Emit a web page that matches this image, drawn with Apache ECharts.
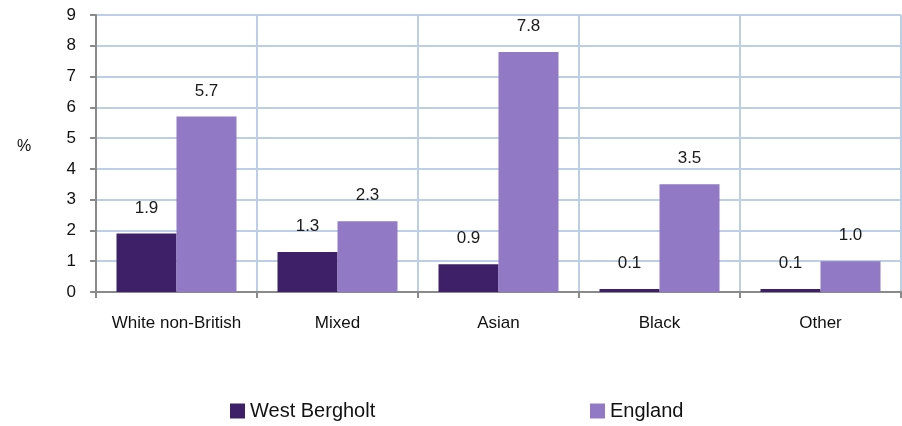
<!DOCTYPE html>
<html>
<head>
<meta charset="utf-8">
<script src="https://cdn.jsdelivr.net/npm/echarts@6/dist/echarts.min.js"></script>
<style>
  html, body { margin: 0; padding: 0; background: #fff; }
  #main { width: 902px; height: 426px; }
</style>
</head>
<body>
<div id="main"></div>
<script>
var categories = ['White non-British', 'Mixed', 'Asian', 'Black', 'Other'];
var westBergholt = [1.9, 1.3, 0.9, 0.1, 0.1];
var england = [5.7, 2.3, 7.8, 3.5, 1.0];
var yTicks = [0, 1, 2, 3, 4, 5, 6, 7, 8, 9];

var font = 'Liberation Sans, Arial, sans-serif';
var gridColor = '#bccfe6';
var axisColor = '#8a8a8a';

var labelStyle = {
  show: true,
  position: 'top',
  distance: 17,
  color: '#1a1a1a',
  fontSize: 17,
  fontFamily: font,
  formatter: function (p) { return p.value.toFixed(1); }
};

var chart = echarts.init(document.getElementById('main'));
chart.setOption({
  animation: false,
  textStyle: { fontFamily: font },
  grid: { left: 96, right: 1, top: 15, bottom: 134 },
  title: {
    text: '%',
    left: 12, top: 134,
    textStyle: { color: '#111', fontSize: 16, fontWeight: 'normal', fontFamily: font }
  },
  legend: [
    {
      data: ['West Bergholt'],
      left: 225, top: 396,
      itemWidth: 15, itemHeight: 15, icon: 'rect',
      textStyle: { fontSize: 20, color: '#111', fontFamily: font }
    },
    {
      data: ['England'],
      left: 585, top: 396,
      itemWidth: 15, itemHeight: 15, icon: 'rect',
      textStyle: { fontSize: 20, color: '#111', fontFamily: font }
    }
  ],
  xAxis: {
    type: 'category',
    data: categories,
    axisLine: { lineStyle: { color: axisColor, width: 2 } },
    axisTick: { show: true, interval: 0, length: 6, lineStyle: { color: axisColor, width: 2 } },
    splitLine: { show: true, interval: 0, lineStyle: { color: gridColor, width: 2 } },
    axisLabel: { interval: 0, color: '#111', fontSize: 17, fontFamily: font, margin: 23 }
  },
  yAxis: {
    type: 'value',
    min: yTicks[0],
    max: yTicks[yTicks.length - 1],
    interval: 1,
    axisLine: { show: true, lineStyle: { color: axisColor, width: 2 } },
    axisTick: { show: true, length: 6, lineStyle: { color: axisColor, width: 2 } },
    splitLine: { show: true, lineStyle: { color: gridColor, width: 2 } },
    axisLabel: { color: '#111', fontSize: 17, fontFamily: font, margin: 20 }
  },
  series: [
    {
      name: 'West Bergholt',
      type: 'bar',
      data: westBergholt,
      barWidth: 60,
      barGap: '0%',
      itemStyle: { color: '#3d2067' },
      label: labelStyle
    },
    {
      name: 'England',
      type: 'bar',
      data: england,
      barWidth: 60,
      barGap: '0%',
      itemStyle: { color: '#9179c5' },
      label: labelStyle
    }
  ]
});
</script>
</body>
</html>
